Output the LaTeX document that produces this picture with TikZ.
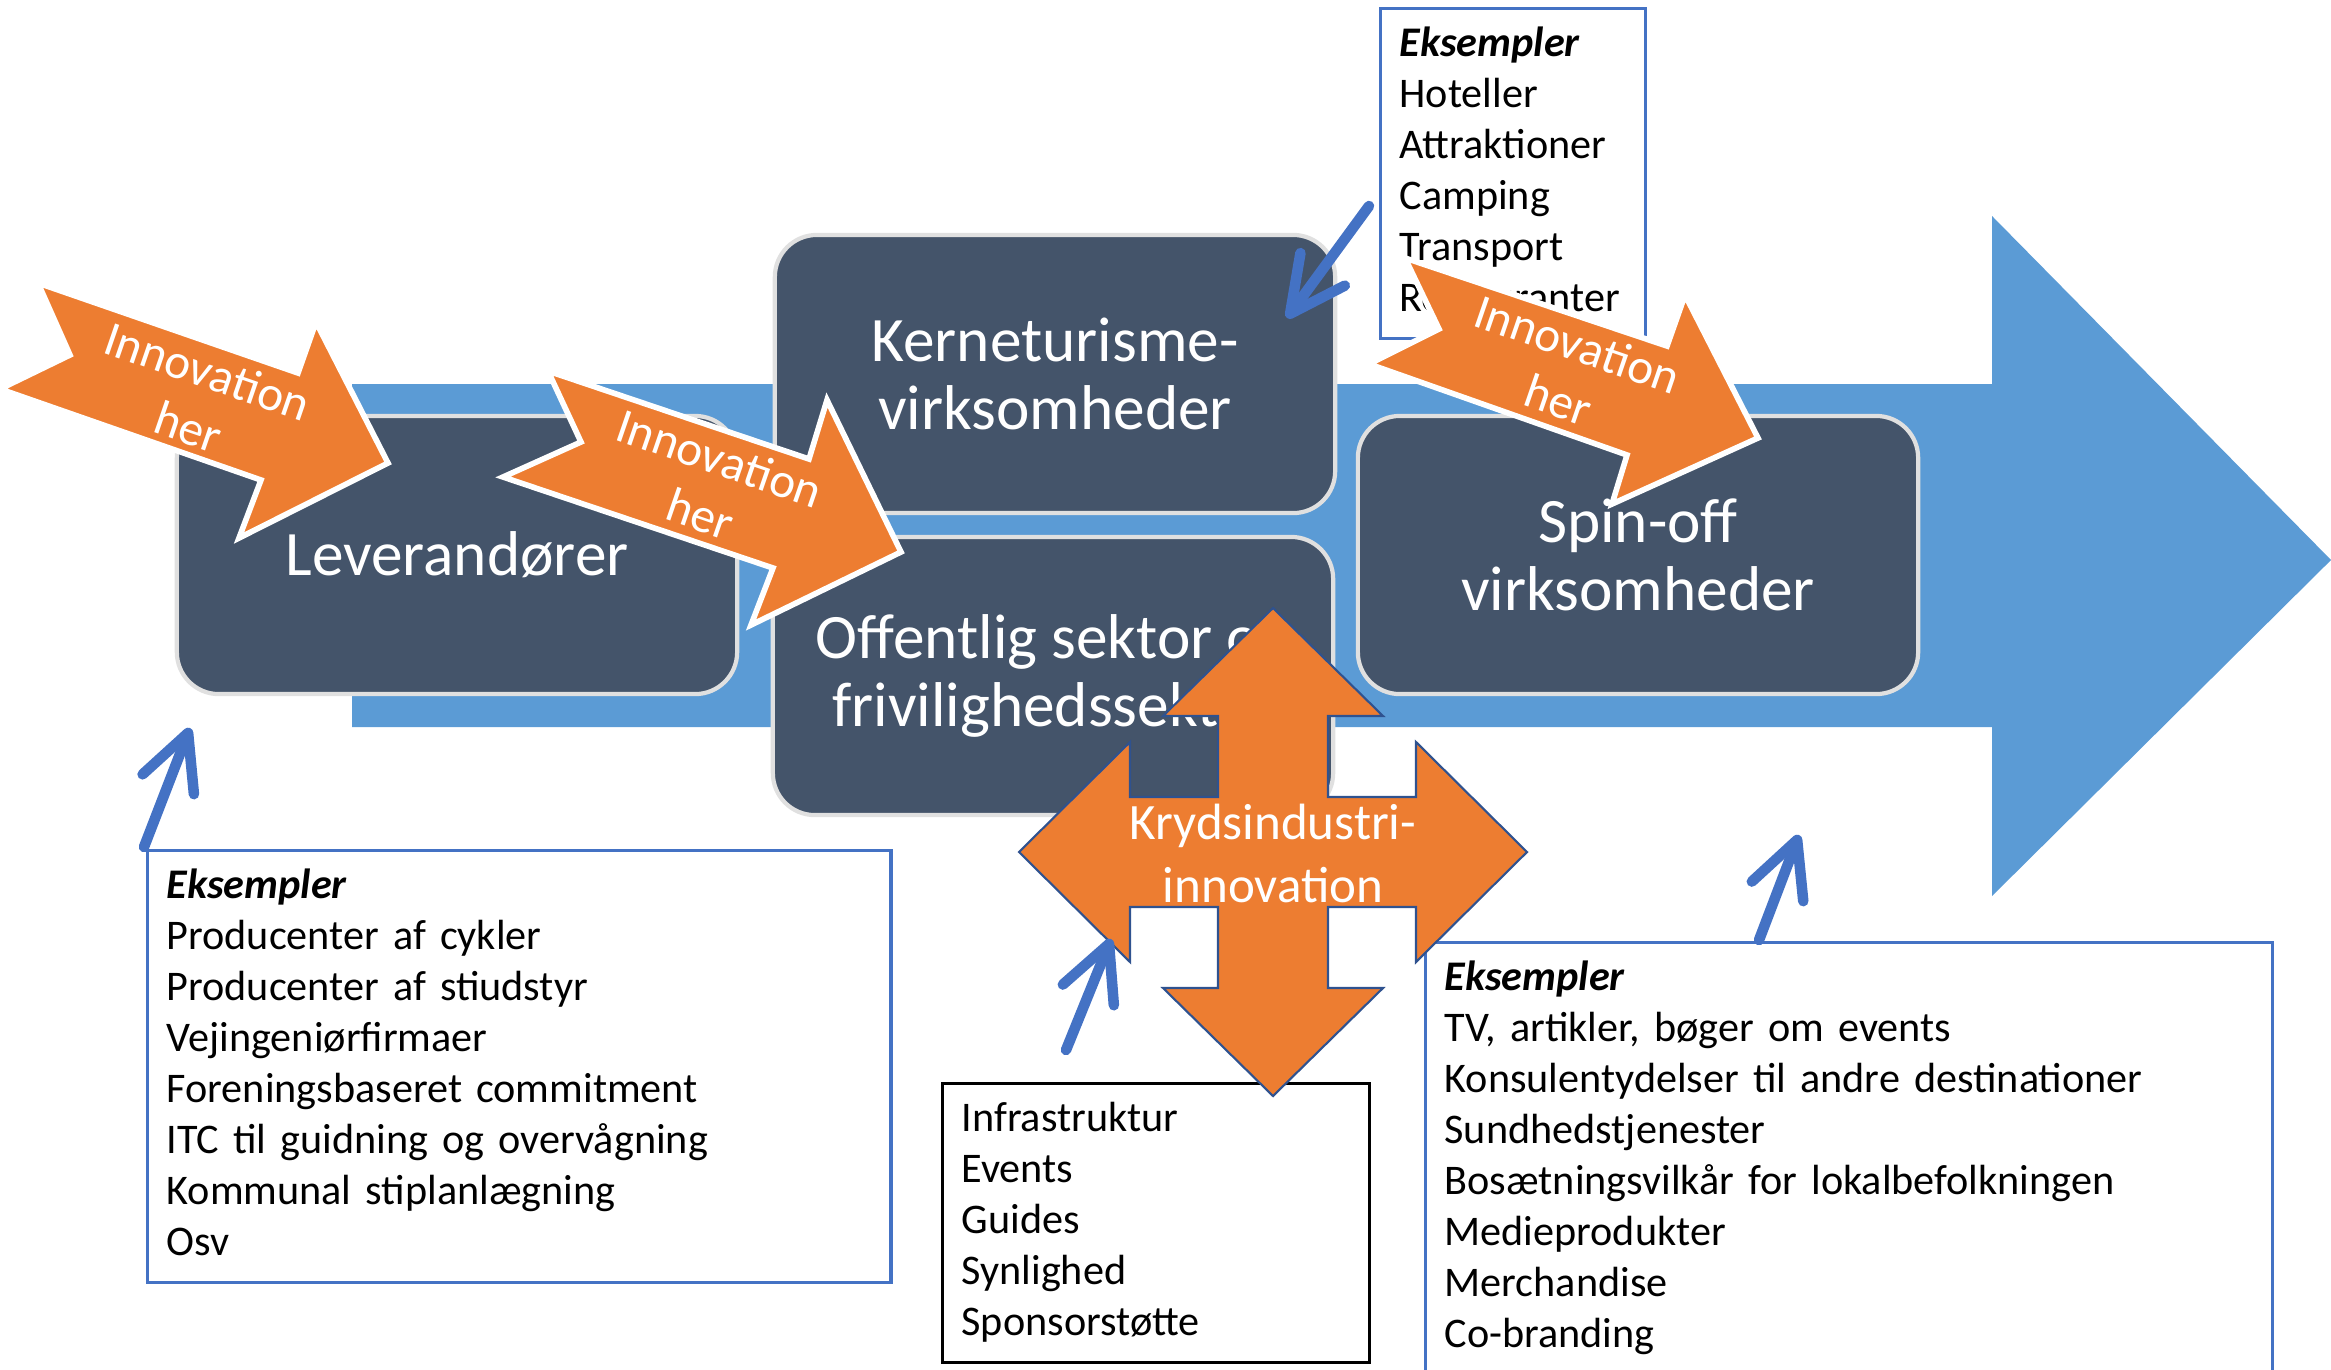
\documentclass[tikz,border=0pt]{standalone}
\usepackage{fontspec}
\setmainfont{Carlito}
\usetikzlibrary{arrows.meta}
\definecolor{flowblue}{HTML}{5B9BD5}
\definecolor{slate}{HTML}{44546A}
\definecolor{innovorange}{HTML}{ED7D31}
\definecolor{calloutblue}{HTML}{4472C4}
\definecolor{crossedge}{HTML}{2F528F}

\begin{document}
\begin{tikzpicture}[x=0.01cm,y=-0.01cm]
    \tikzstyle{sector}=[rectangle,rounded corners=0.42cm,fill=slate,draw=white!88!black,line width=1.2pt,text=white,align=center,minimum width=5.6cm,minimum height=2.78cm,font=\fontsize{18}{19.5}\selectfont]
    \tikzstyle{examples}=[rectangle,draw=calloutblue,line width=0.9pt,fill=white,anchor=north west,align=left,inner xsep=0.19cm,inner ysep=0.12cm,font=\fontsize{12}{14.5}\selectfont]
    \tikzstyle{innovation}=[fill=innovorange,draw=white,line width=1.6pt]
    \tikzstyle{innolabel}=[text=white,align=center,rotate=-19,font=\fontsize{14}{16.7}\selectfont]
    \tikzstyle{crosslabel}=[text=white,align=center,font=\fontsize{14.5}{17.9}\selectfont]
    \tikzstyle{callout}=[draw=calloutblue,line width=3pt,line cap=round,-{Straight Barb[length=5.5mm,width=5.5mm,round]}]

    \useasboundingbox (0,0) rectangle (2331,1369);

    % Main flow arrow
    \fill[flowblue] (352,384) -- (1992,384) -- (1992,216) -- (2331,560)
        -- (1992,896) -- (1992,727) -- (352,727) -- cycle;

    % Sectors
    \node[sector] (lev) at (457,555) {Leverandører};
    \node[sector] (kerne) at (1055,374) {Kerneturisme-\\virksomheder};
    \node[sector] (offentlig) at (1053,676) {Offentlig sektor og\\frivilighedssektor};
    \node[sector] (spinoff) at (1638,555) {Spin-off\\virksomheder};

    % Example boxes
    \node[examples,text width=2.27cm] (eks-kerne) at (1379,7)
        {\strut\textbf{\textit{Eksempler}}\\Hoteller\\Attraktioner\\Camping\\Transport\\Restauranter\strut};
    \node[examples,text width=7.05cm] (eks-lev) at (146,849)
        {\strut\textbf{\textit{Eksempler}}\\Producenter af cykler\\Producenter af stiudstyr\\Vejingeniørfirmaer\\Foreningsbaseret commitment\\ITC til guidning og overvågning\\Kommunal stiplanlægning\\Osv\strut};
    \node[examples,draw=black,text width=3.89cm] (eks-kryds) at (941,1082)
        {\strut Infrastruktur\\Events\\Guides\\Synlighed\\Sponsorstøtte\strut};
    \node[examples,text width=8.08cm] (eks-spin) at (1424,941)
        {\strut\textbf{\textit{Eksempler}}\\TV, artikler, bøger om events\\Konsulentydelser til andre destinationer\\Sundhedstjenester\\Bosætningsvilkår for lokalbefolkningen\\Medieprodukter\\Merchandise\\Co-branding\strut};

    % Innovation arrows
    \filldraw[innovation] (38,283) -- (298,373) -- (316,322) -- (388,463)
        -- (239,538) -- (261,480) -- (0,389) -- (70,355) -- cycle;
    \node[innolabel] (inno-1) at (198,399) {Innovation\\her};

    \filldraw[innovation] (548,371) -- (809,459) -- (827,400) -- (901,552)
        -- (751,625) -- (773,568) -- (503,477) -- (581,442) -- cycle;
    \node[innolabel] (inno-2) at (710,486) {Innovation\\her};

    \filldraw[innovation] (1405,258) -- (1667,346) -- (1685,295) -- (1758,438)
        -- (1612,504) -- (1627,455) -- (1369,364) -- (1439,329) -- cycle;
    \node[innolabel] (inno-3) at (1568,372) {Innovation\\her};

    % Cross industry arrow
    \begin{scope}[shift={(1273,852)}]
        \filldraw[fill=innovorange,draw=crossedge,line width=0.6pt]
            (0,-244) -- (110,-136) -- (55,-136) -- (55,-55) -- (143,-55) -- (143,-110)
            -- (254,0) -- (143,110) -- (143,55) -- (55,55) -- (55,136) -- (110,136)
            -- (0,244) -- (-110,136) -- (-55,136) -- (-55,55) -- (-143,55) -- (-143,110)
            -- (-254,0) -- (-143,-110) -- (-143,-55) -- (-55,-55) -- (-55,-136) -- (-110,-136)
            -- cycle;
    \end{scope}
    \node[crosslabel] (kryds) at (1273,853) {Krydsindustri-\\innovation};

    % Callout arrows
    \coordinate (a-from) at (144,847);
    \coordinate (a-to) at (190,728);
    \coordinate (b-from) at (1369,206);
    \coordinate (b-to) at (1287,318);
    \coordinate (c-from) at (1066,1050);
    \coordinate (c-to) at (1111,939);
    \coordinate (d-from) at (1759,940);
    \coordinate (d-to) at (1799,835);
    \foreach \c in {a,b,c,d}
        \draw[callout] (\c-from) -- (\c-to);

\end{tikzpicture}
\end{document}
